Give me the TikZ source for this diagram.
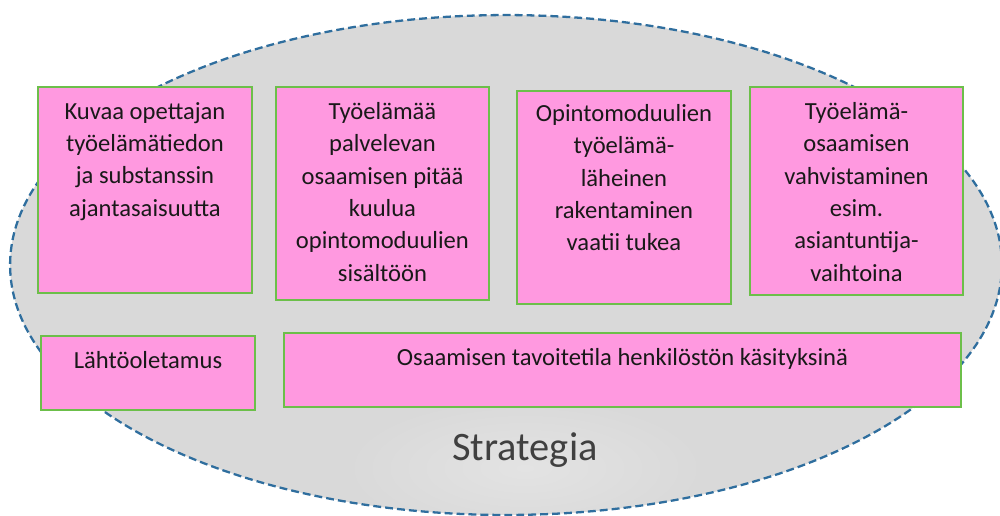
\documentclass[tikz,border=0pt]{standalone}
\usepackage{fontspec}
\setmainfont{Carlito}
\usetikzlibrary{positioning}

\definecolor{boxpink}{HTML}{FF99E0}
\definecolor{boxgreen}{HTML}{6CBF4A}
\definecolor{rimblue}{HTML}{2F6E9E}
\definecolor{areagray}{HTML}{D9D9D9}
\definecolor{glowgray}{HTML}{E3E3E3}

\begin{document}
\begin{tikzpicture}[x=0.02cm, y=-0.02cm,
    box/.style={draw=boxgreen, line width=0.9pt, fill=boxpink, anchor=north west, inner sep=0pt, outer sep=0pt},
    txt/.style={align=center, inner sep=0pt, text=black!90, font=\fontsize{14}{18.4}\selectfont}]
        \useasboundingbox (0,0) rectangle (1000,515);
        % --- Strategy area ---
        \fill[areagray] (506,265) ellipse [x radius=9.92cm, y radius=5cm];
        \begin{scope}
            \clip (506,265) ellipse [x radius=9.92cm, y radius=5cm];
            \shade[inner color=glowgray, outer color=areagray] (525,468) ellipse [x radius=3.6cm, y radius=1.4cm];
        \end{scope}
        \draw[rimblue, line width=1.3pt, dash pattern=on 4.5pt off 2.3pt] (506,265) ellipse [x radius=9.92cm, y radius=5cm];
        % --- Upper boxes ---
        \node[box, minimum width=4.28cm, minimum height=4.12cm] (kuvaa) at (38,87) {};
        \node[box, minimum width=4.26cm, minimum height=4.26cm] (palvelevan) at (276,87) {};
        \node[box, minimum width=4.28cm, minimum height=4.26cm] (moduulit) at (517,91) {};
        \node[box, minimum width=4.26cm, minimum height=4.16cm] (vahvistus) at (750,87) {};
        \node[txt, below=0.3cm of kuvaa.north] (kuvaa-t) {Kuvaa opettajan\\työelämätiedon\\ja substanssin\\ajantasaisuutta};
        \node[txt, below=0.3cm of palvelevan.north] (palvelevan-t) {Työelämää\\palvelevan\\osaamisen pitää\\kuulua\\opintomoduulien\\sisältöön};
        \node[txt, below=0.26cm of moduulit.north] (moduulit-t) {Opintomoduulien\\työelämä-\\läheinen\\rakentaminen\\vaatii tukea};
        \node[txt, below=0.3cm of vahvistus.north] (vahvistus-t) {Työelämä-\\osaamisen\\vahvistaminen\\esim.\\asiantuntija-\\vaihtoina};
        % --- Lower boxes ---
        \node[box, minimum width=4.28cm, minimum height=1.48cm] (lahto) at (41,336) {};
        \node[box, minimum width=13.54cm, minimum height=1.48cm] (tavoite) at (284,333) {};
        \node[txt, below=0.3cm of lahto.north] (lahto-t) {Lähtöoletamus};
        \node[txt, below=0.3cm of tavoite.north] (tavoite-t) {Osaamisen tavoitetila henkilöstön käsityksinä};
        % --- Label ---
        \node[anchor=base, inner sep=0pt, text=black!75, font=\fontsize{23}{27}\selectfont] (strategia) at (525,460) {Strategia};
        % ---
\end{tikzpicture}
\end{document}
